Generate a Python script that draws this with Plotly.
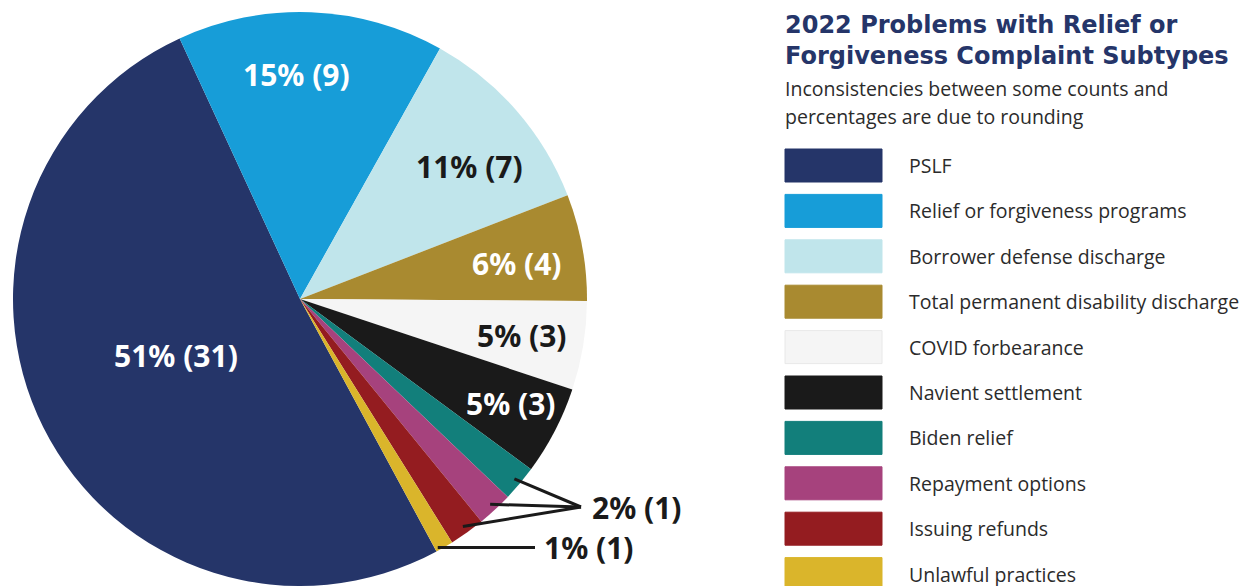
import math
import plotly.graph_objects as go

# ---------------- data ----------------
categories = [
    "PSLF",
    "Relief or forgiveness programs",
    "Borrower defense discharge",
    "Total permanent disability discharge",
    "COVID forbearance",
    "Navient settlement",
    "Biden relief",
    "Repayment options",
    "Issuing refunds",
    "Unlawful practices",
]
percentages = [51, 15, 11, 6, 5, 5, 2, 2, 2, 1]
counts = [31, 9, 7, 4, 3, 3, 1, 1, 1, 1]

title_lines = ["2022 Problems with Relief or", "Forgiveness Complaint Subtypes"]
subtitle_lines = ["Inconsistencies between some counts and", "percentages are due to rounding"]

# ---------------- style ----------------
colors = ["#253569", "#179dd8", "#c0e5eb", "#a98a30", "#f5f5f5",
          "#1a1a1a", "#127f7b", "#a6427d", "#941c20", "#dab52b"]
label_colors = ["#ffffff", "#ffffff", "#1a1a1a", "#ffffff", "#1a1a1a",
                "#ffffff", None, None, None, None]
label_rfrac = [0.474, 0.784, 0.75, 0.767, 0.784, 0.82, None, None, None, None]
label_nudge = [2, -3, 3, 1, 0, -1, 0, 0, 0, 0]

W, H = 1252, 586
CX, CY, R = 300, 299, 287
ROT = 151.6
NAVY = "#253569"
DARK = "#1a1a1a"
LABEL_FONT = "Noto Sans"
TITLE_FONT = "DejaVu Sans"
TEXT_FONT = "Open Sans"
LABEL_SIZE = 30


def px(x):
    return x / W


def py(y):
    return 1 - y / H


def polar(angle_deg, r):
    a = math.radians(angle_deg)
    return CX + r * math.sin(a), CY - r * math.cos(a)


fig = go.Figure()
fig.add_trace(go.Pie(
    labels=categories,
    values=percentages,
    marker=dict(colors=colors, line=dict(width=0)),
    sort=False,
    direction="clockwise",
    rotation=ROT,
    textinfo="none",
    hoverinfo="label+value",
    showlegend=False,
    domain=dict(x=[(CX - R) / W, (CX + R) / W], y=[(H - CY - R) / H, (H - CY + R) / H]),
))

annotations = []
shapes = []

# slice angles
total = sum(percentages)
mids = []
cum = 0
for p in percentages:
    a0 = ROT + cum / total * 360
    a1 = ROT + (cum + p) / total * 360
    mids.append((a0 + a1) / 2)
    cum += p

# inside labels
for i, (p, c) in enumerate(zip(percentages, counts)):
    if label_rfrac[i] is None:
        continue
    x, y = polar(mids[i] + label_nudge[i], label_rfrac[i] * R)
    annotations.append(dict(
        x=px(x), y=py(y), xref="paper", yref="paper", showarrow=False,
        text=f"{p}% ({c})", xanchor="center", yanchor="middle",
        font=dict(family=LABEL_FONT, size=LABEL_SIZE, color=label_colors[i], weight=700),
    ))

# callouts for the small slices
hub2 = (581, 507)
small_idx = [i for i in range(len(percentages)) if label_rfrac[i] is None]
two_idx = [i for i in small_idx if percentages[i] == 2]
one_idx = [i for i in small_idx if percentages[i] == 1]
for i in two_idx:
    x, y = polar(mids[i], 0.975 * R)
    shapes.append(dict(type="line", xref="paper", yref="paper",
                       x0=px(x), y0=py(y), x1=px(hub2[0]), y1=py(hub2[1]),
                       line=dict(color=DARK, width=3)))
annotations.append(dict(
    x=px(hub2[0] + 9), y=py(hub2[1]), xref="paper", yref="paper", showarrow=False,
    text=f"{percentages[two_idx[0]]}% ({counts[two_idx[0]]})",
    xanchor="left", yanchor="middle",
    font=dict(family=LABEL_FONT, size=LABEL_SIZE, color=DARK, weight=700),
))
for i in one_idx:
    x, y = polar(mids[i] + 1.2, 0.99 * R)
    shapes.append(dict(type="line", xref="paper", yref="paper",
                       x0=px(x), y0=py(y), x1=px(535), y1=py(y),
                       line=dict(color=DARK, width=3)))
    annotations.append(dict(
        x=px(542), y=py(y), xref="paper", yref="paper", showarrow=False,
        text=f"{percentages[i]}% ({counts[i]})",
        xanchor="left", yanchor="middle",
        font=dict(family=LABEL_FONT, size=LABEL_SIZE, color=DARK, weight=700),
    ))

# title (single block so line spacing is handled by the library)
annotations.append(dict(
    x=px(783), y=py(40), xref="paper", yref="paper", showarrow=False,
    text="<br>".join(title_lines), xanchor="left", yanchor="middle", align="left",
    font=dict(family=TITLE_FONT, size=24, color=NAVY, weight=700),
))
# subtitle lines
for k, line in enumerate(subtitle_lines):
    annotations.append(dict(
        x=px(783), y=py(88 + k * 28), xref="paper", yref="paper", showarrow=False,
        text=line, xanchor="left", yanchor="middle",
        font=dict(family=TEXT_FONT, size=19.5, color="#2b2b2b"),
    ))

# legend
for i, (cat, col) in enumerate(zip(categories, colors)):
    top = 149 + i * 45.4
    shapes.append(dict(type="rect", xref="paper", yref="paper",
                       x0=px(785), x1=px(882), y0=py(top), y1=py(top + 33),
                       fillcolor=col,
                       line=dict(color="#e8e8e8" if col == "#f5f5f5" else col, width=1)))
    annotations.append(dict(
        x=px(907), y=py(top + 16.5), xref="paper", yref="paper", showarrow=False,
        text=cat, xanchor="left", yanchor="middle",
        font=dict(family=TEXT_FONT, size=19.5, color="#2b2b2b"),
    ))

fig.update_layout(
    width=W, height=H, autosize=False,
    margin=dict(l=0, r=0, t=0, b=0),
    paper_bgcolor="#ffffff", plot_bgcolor="#ffffff",
    annotations=annotations, shapes=shapes,
    showlegend=False,
)

fig.write_html(
    "out.html",
    config={"displayModeBar": False},
    post_script="document.body.style.margin='0px';document.body.style.overflow='hidden';",
)
